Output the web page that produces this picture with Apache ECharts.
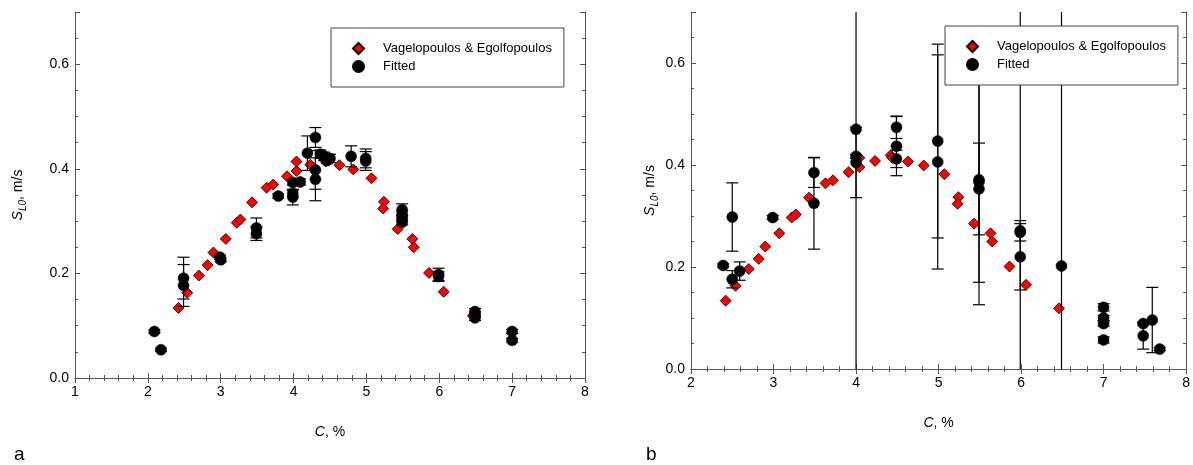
<!DOCTYPE html>
<html>
<head>
<meta charset="utf-8">
<script src="https://cdn.jsdelivr.net/npm/echarts@6/dist/echarts.min.js"></script>
<style>html,body{margin:0;padding:0;background:#fff}#c{width:1193px;height:465px}</style>
</head>
<body>
<div id="c"></div>
<script>
// ---- data ----
const seriesNames = ['Vagelopoulos & Egolfopoulos', 'Fitted'];
const panelLabels = ['a', 'b'];
const xRangeA = [1, 8];
const xRangeB = [2, 8];
const yRange = [0, 0.7];
const yTickLabels = ['0.0', '0.2', '0.4', '0.6'];
const xTitle = 'C, %';

// Vagelopoulos & Egolfopoulos [C, S]
const vagelopoulos = [
  [2.42,0.134],[2.54,0.163],[2.70,0.196],[2.82,0.216],[2.90,0.240],[3.07,0.266],
  [3.22,0.297],[3.27,0.303],[3.43,0.336],[3.63,0.364],[3.72,0.370],[3.91,0.386],
  [4.04,0.396],[4.04,0.414],[4.23,0.408],[4.42,0.419],[4.44,0.414],[4.63,0.407],
  [4.82,0.399],[5.07,0.382],[5.24,0.337],[5.23,0.324],[5.43,0.285],[5.63,0.266],
  [5.65,0.250],[5.86,0.201],[6.06,0.165],[6.46,0.119]
];

// Fitted, panel a [C, S, error]
const fittedA = [
  [2.09,0.089,0.003],[2.18,0.054,0.003],[2.49,0.191,0.040],[2.49,0.177,0.040],
  [2.99,0.231,0.004],[3.00,0.226,0.004],[3.49,0.287,0.019],[3.49,0.276,0.013],
  [3.79,0.348,0.004],[3.99,0.374,0.005],[4.09,0.375,0.006],[3.99,0.353,0.006],
  [3.99,0.346,0.015],[4.19,0.430,0.033],[4.30,0.460,0.019],[4.30,0.398,0.037],
  [4.30,0.380,0.041],[4.37,0.428,0.008],[4.42,0.424,0.008],[4.46,0.416,0.006],
  [4.50,0.420,0.008],[4.79,0.424,0.020],[4.99,0.420,0.018],[4.99,0.415,0.018],
  [5.49,0.322,0.011],[5.49,0.314,0.006],[5.49,0.306,0.006],[5.49,0.298,0.005],
  [5.99,0.198,0.012],[5.99,0.194,0.009],[6.49,0.127,0.006],[6.49,0.121,0.005],
  [6.49,0.115,0.005],[7.00,0.089,0.004],[7.00,0.072,0.004]
];

// Fitted, panel b [C, S, error]
const fittedB = [
  [2.39,0.203,0.003],[2.50,0.298,0.067],[2.50,0.176,0.017],[2.59,0.192,0.018],
  [2.99,0.297,0.004],[3.49,0.385,0.029],[3.49,0.325,0.090],[4.00,0.470,0.900],
  [4.00,0.417,0.004],[4.00,0.405,0.069],[4.49,0.474,0.022],[4.49,0.437,0.058],
  [4.49,0.412,0.017],[4.99,0.447,0.190],[4.99,0.406,0.210],[5.49,0.371,0.245],
  [5.49,0.367,0.197],[5.49,0.353,0.090],[5.99,0.271,0.020],[5.99,0.220,0.065],
  [5.99,0.268,0.900],[6.49,0.202,0.900],[7.00,0.121,0.007],[7.00,0.100,0.005],
  [7.00,0.089,0.005],[7.00,0.057,0.006],[7.48,0.089,0.003],[7.48,0.065,0.026],
  [7.59,0.096,0.064],[7.68,0.039,0.003]
];

// ---- chart ----
const FONT = 'Liberation Sans';
const AX = '#555';
const chart = echarts.init(document.getElementById('c'), null, {renderer: 'canvas'});

const grids = [
  {left: 75, top: 12, width: 510, height: 366},
  {left: 691, top: 12, width: 498, height: 357}
];

function xAxes(gi, range, showLabel, pos) {
  return {
    type: 'value', gridIndex: gi, position: pos, min: range[0], max: range[1], interval: 1,
    axisLine: {show: true, lineStyle: {color: AX, width: 1}},
    axisTick: {show: true, inside: true, length: 5, lineStyle: {color: AX}},
    minorTick: {show: true, splitNumber: 5, length: 3, lineStyle: {color: AX}},
    splitLine: {show: false},
    axisLabel: {show: showLabel, color: '#000', fontFamily: FONT, fontSize: 14, margin: 7},
    name: showLabel ? xTitle : '',
    nameLocation: 'middle', nameGap: 47,
    nameTextStyle: {color: '#000', fontFamily: FONT, fontSize: 14, fontStyle: 'normal',
      rich: {i: {fontStyle: 'italic', fontFamily: FONT, fontSize: 14, color: '#000'},
             n: {fontFamily: FONT, fontSize: 14, color: '#000'}}}
  };
}
function yMain(gi, pos, showLabel, nameGap) {
  return {
    type: 'value', gridIndex: gi, position: pos, min: yRange[0], max: yRange[1], interval: 0.2,
    axisLine: {show: true, lineStyle: {color: AX, width: 1}},
    axisTick: {show: true, inside: true, length: 5, lineStyle: {color: AX}},
    splitLine: {show: false},
    axisLabel: {show: showLabel, color: '#000', fontFamily: FONT, fontSize: 14, margin: 6,
      formatter: v => { const k = Math.round(v / 0.2); return Math.abs(k * 0.2 - v) < 1e-6 && yTickLabels[k] ? yTickLabels[k] : ''; }},
    name: showLabel ? '{s|S}{sub|L0}{t|, m/s}' : '',
    nameLocation: 'middle', nameRotate: 90, nameGap: nameGap,
    nameTextStyle: {color: '#000', fontFamily: FONT, fontSize: 14,
      rich: {
        s: {fontFamily: FONT, fontSize: 14, fontStyle: 'italic', color: '#000', lineHeight: 20, verticalAlign: 'middle'},
        sub: {fontFamily: FONT, fontSize: 10, fontStyle: 'italic', color: '#000', lineHeight: 10, verticalAlign: 'bottom'},
        t: {fontFamily: FONT, fontSize: 14, color: '#000', lineHeight: 20, verticalAlign: 'middle'}
      }}
  };
}
function yMinor(gi, pos) {
  return {
    type: 'value', gridIndex: gi, position: pos, min: yRange[0], max: yRange[1], interval: 0.05,
    axisLine: {show: false},
    axisTick: {show: true, inside: true, length: 3, lineStyle: {color: AX}},
    splitLine: {show: false},
    axisLabel: {show: false}
  };
}

function errRender(params, api) {
  const x = api.value(0), y = api.value(1), e = api.value(2);
  const p1 = api.coord([x, y + e]);
  const p2 = api.coord([x, y - e]);
  const hw = 6;
  const st = {stroke: '#000', lineWidth: 1.2};
  return {type: 'group', children: [
    {type: 'line', shape: {x1: p1[0], y1: p1[1], x2: p2[0], y2: p2[1]}, style: st},
    {type: 'line', shape: {x1: p1[0] - hw, y1: p1[1], x2: p1[0] + hw, y2: p1[1]}, style: st},
    {type: 'line', shape: {x1: p2[0] - hw, y1: p2[1], x2: p2[0] + hw, y2: p2[1]}, style: st}
  ]};
}

function panelSeries(xi, yi, fitted) {
  return [
    {type: 'scatter', name: seriesNames[0], xAxisIndex: xi, yAxisIndex: yi,
     data: vagelopoulos, symbol: 'diamond', symbolSize: 11, z: 2,
     itemStyle: {color: '#ff0000', borderColor: '#000', borderWidth: 0.8, opacity: 1}},
    {type: 'custom', name: 'err', xAxisIndex: xi, yAxisIndex: yi, clip: true, z: 3,
     data: fitted, encode: {x: 0, y: 1}, renderItem: errRender},
    {type: 'scatter', name: seriesNames[1], xAxisIndex: xi, yAxisIndex: yi,
     data: fitted.map(d => [d[0], d[1]]), symbol: 'circle', symbolSize: 11, z: 4,
     itemStyle: {color: '#000', borderColor: '#000', borderWidth: 0.5, opacity: 1}}
  ];
}

function legendAt(left, top) {
  return {
    data: seriesNames, orient: 'vertical', left: left, top: top,
    backgroundColor: '#fff', borderColor: '#444', borderWidth: 1,
    padding: [14, 12, 14, 21], itemGap: 5, itemWidth: 11, itemHeight: 11,
    selectedMode: false,
    textStyle: {color: '#000', fontFamily: FONT, fontSize: 13, lineHeight: 13, padding: [0, 0, 0, 14]}
  };
}

const xAxisList = [
  xAxes(0, xRangeA, true, 'bottom'), xAxes(0, xRangeA, false, 'top'),
  xAxes(1, xRangeB, true, 'bottom'), xAxes(1, xRangeB, false, 'top')
];
xAxisList[0].name = '{i|C}{n|, %}';
xAxisList[2].name = '{i|C}{n|, %}';

const option = {
  animation: false,
  backgroundColor: '#fff',
  grid: grids,
  legend: [legendAt(331, 28), legendAt(945, 26)],
  xAxis: xAxisList,
  yAxis: [
    yMain(0, 'left', true, 47), yMinor(0, 'left'), yMain(0, 'right', false, 0), yMinor(0, 'right'),
    yMain(1, 'left', true, 31), yMinor(1, 'left'), yMain(1, 'right', false, 0), yMinor(1, 'right')
  ],
  series: [].concat(panelSeries(0, 0, fittedA), panelSeries(2, 4, fittedB)),
  graphic: [
    {type: 'text', left: 14, top: 445, style: {text: panelLabels[0], fontFamily: FONT, fontSize: 19, fill: '#000'}},
    {type: 'text', left: 646, top: 445, style: {text: panelLabels[1], fontFamily: FONT, fontSize: 19, fill: '#000'}}
  ]
};
chart.setOption(option);
</script>
</body>
</html>
